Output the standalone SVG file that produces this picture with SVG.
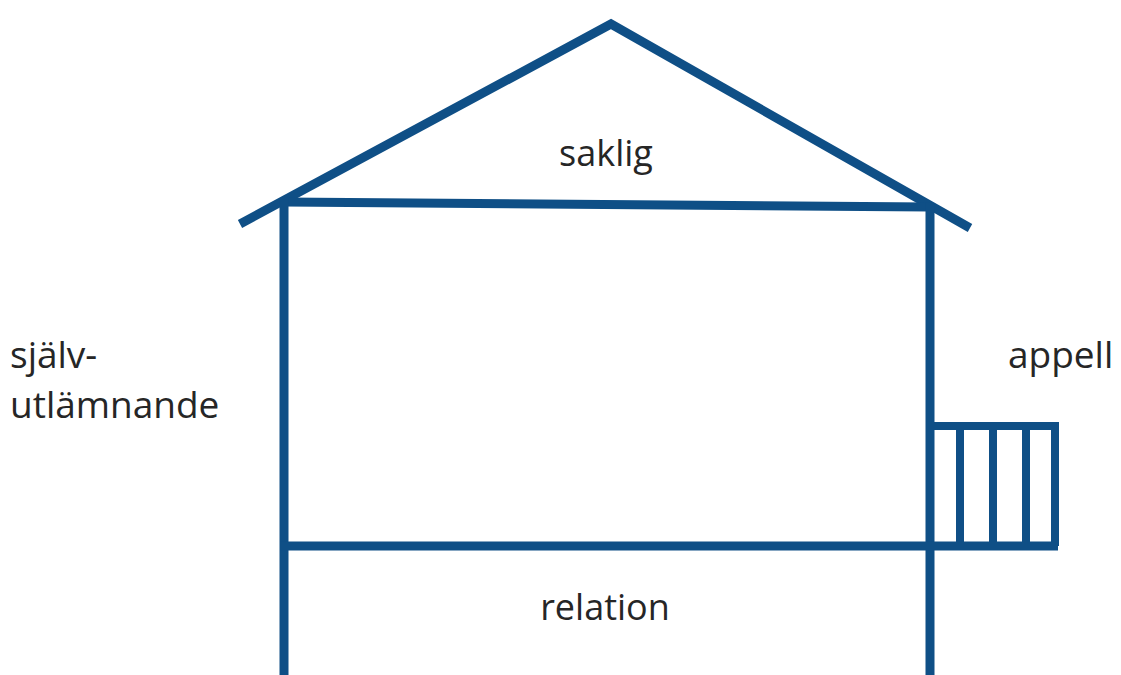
<svg xmlns="http://www.w3.org/2000/svg" width="1121" height="675" viewBox="0 0 1121 675">
  <style>
    .wall { fill: none; stroke: #0f4f86; stroke-width: 9; stroke-linecap: butt; stroke-linejoin: miter; }
    .bar { fill: none; stroke: #0f4f86; stroke-width: 8; }
    .label { font-family: "Open Sans", "Noto Sans", sans-serif; font-size: 36px; fill: #262626; }
    .side { font-size: 37px; }
  </style>
  <rect width="1121" height="675" fill="#ffffff"/>

  <!-- roof with eaves -->
  <g id="roof">
    <polyline class="wall" points="240,224 611,24 970,228"/>
    <line class="wall" x1="284" y1="202" x2="930" y2="207"/>
    <text class="label" x="606" y="166" text-anchor="middle">saklig</text>
  </g>

  <!-- house body -->
  <g id="house">
    <line class="wall" x1="284" y1="198" x2="284" y2="675"/>
    <line class="wall" x1="930" y1="203" x2="930" y2="675"/>
    <line class="wall" x1="280" y1="546" x2="1058" y2="546"/>
    <text class="label" x="605" y="620" text-anchor="middle">relation</text>
  </g>

  <!-- balcony railing on the right wall -->
  <g id="balcony">
    <polyline class="bar" points="930,426 1055,426 1055,546"/>
    <line class="bar" x1="960" y1="426" x2="960" y2="546"/>
    <line class="bar" x1="993" y1="426" x2="993" y2="546"/>
    <line class="bar" x1="1026" y1="426" x2="1026" y2="546"/>
  </g>

  <g id="label-left">
    <text class="label side" x="10" y="368">själv-</text>
    <text class="label side" x="10" y="418">utlämnande</text>
  </g>

  <g id="label-right">
    <text class="label side" x="1008" y="368">appell</text>
  </g>
</svg>
